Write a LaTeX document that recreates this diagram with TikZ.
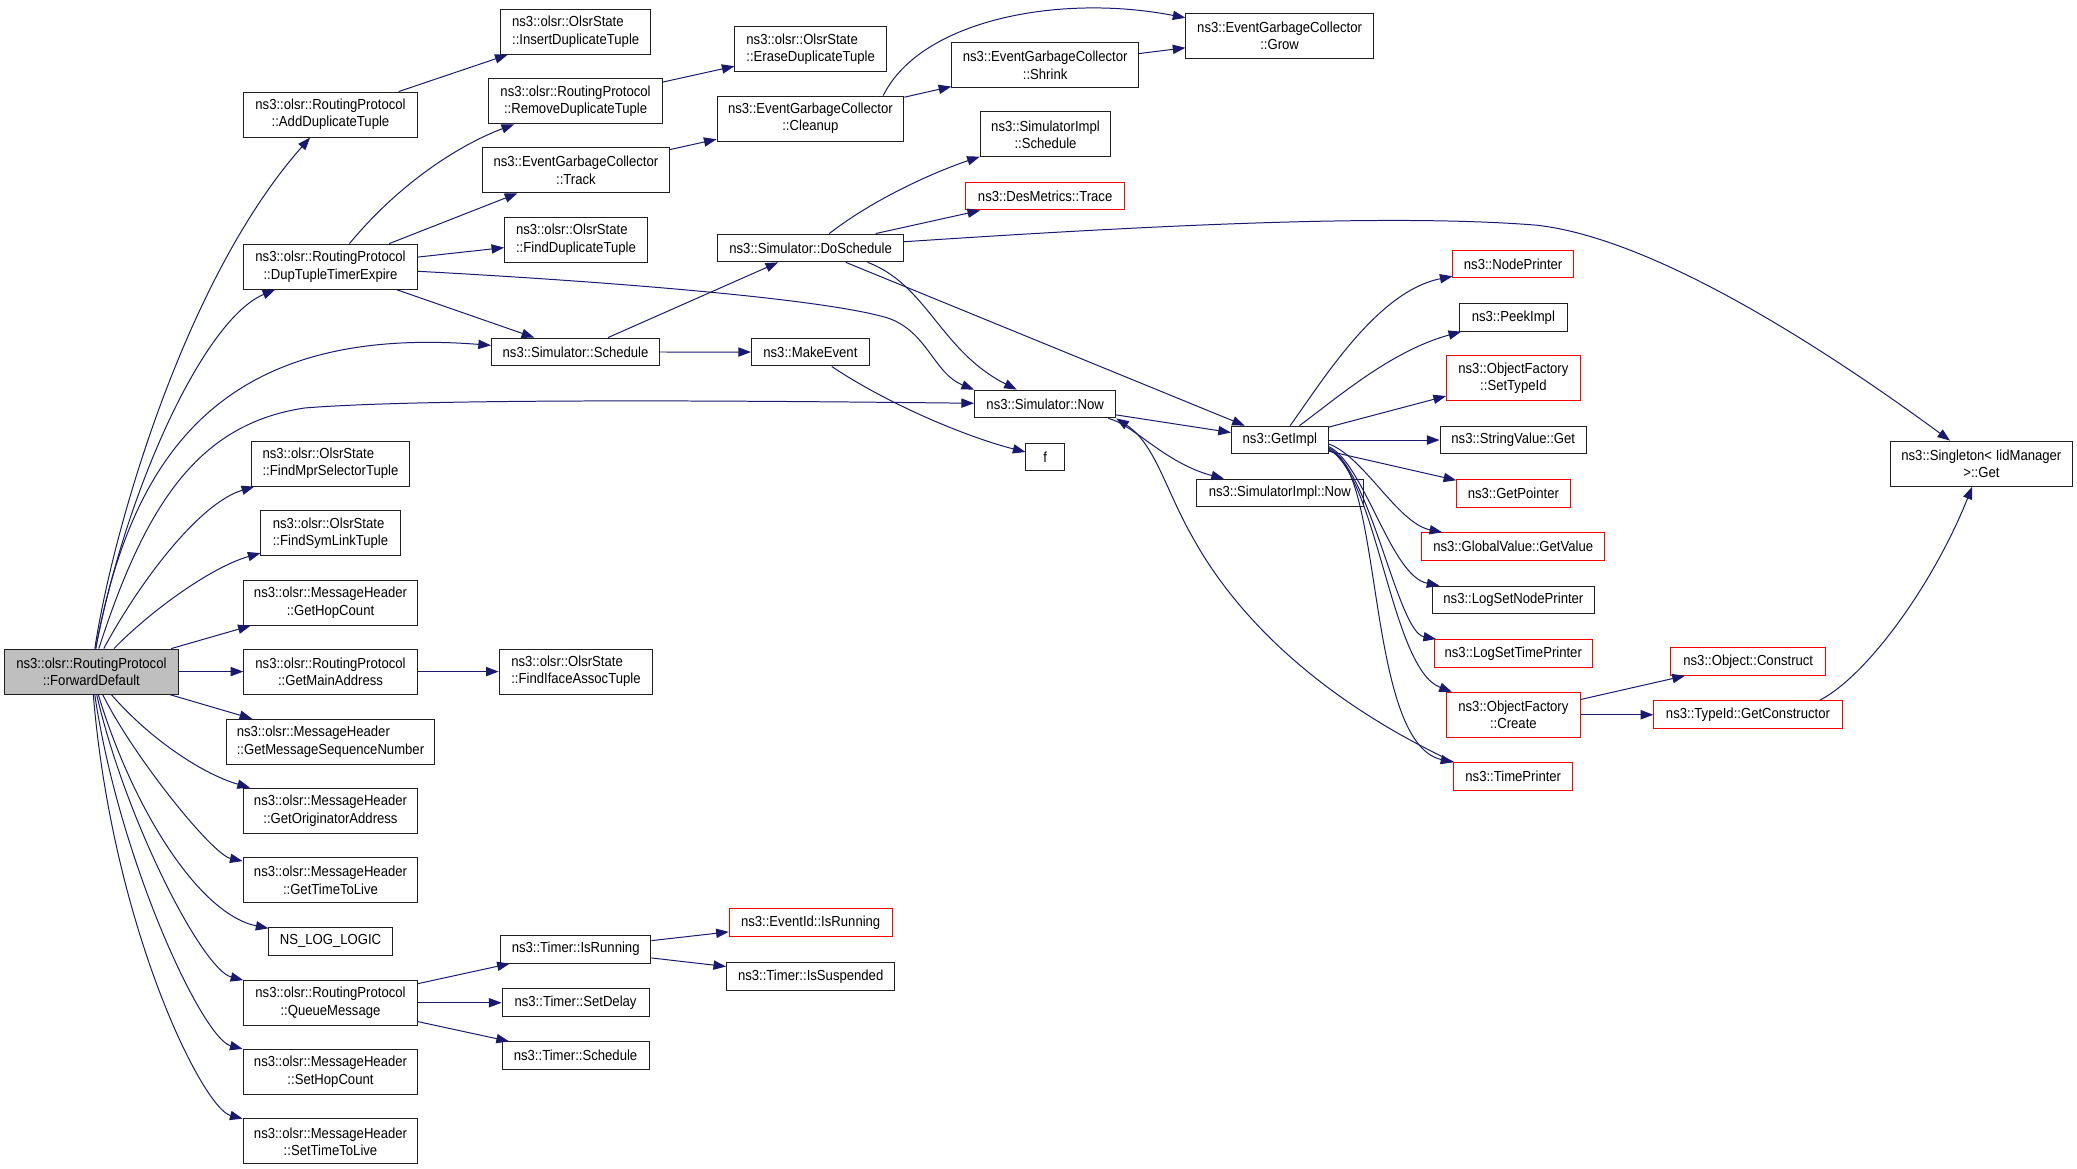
\documentclass[tikz,border=0pt]{standalone}
\usepackage{fontspec}
\setmainfont{Liberation Sans}[FakeStretch=0.9]
\usetikzlibrary{arrows.meta}
\definecolor{navyc}{HTML}{191970}
\definecolor{rootfill}{HTML}{BFBFBF}
\definecolor{boxc}{HTML}{202020}
\begin{document}
\begin{tikzpicture}[x=1pt,y=-1pt,
  fn/.style={draw=boxc, line width=0.75pt, fill=white, font=\fontsize{11}{13}\selectfont,
     inner xsep=2pt, inner ysep=1pt, align=center, minimum height=21pt},
  fn2/.style={fn, minimum height=34pt},
  la/.style={align=left},
  trunc/.style={draw=red},
  rootn/.style={fill=rootfill},
  conn/.style={draw=navyc, line width=0.75pt, -{Triangle[length=9.5pt,width=7pt]}}]
\fill[white] (0,0) rectangle (1568,882.5);
\useasboundingbox (0,0) rectangle (1568,882.5);
% column 1
\node[fn2,rootn,minimum width=131pt] (FD) at (69,507) {ns3::olsr::RoutingProtocol\\::ForwardDefault};
% column 2
\node[fn2,minimum width=131pt] (AddDup) at (249.5,86.5) {ns3::olsr::RoutingProtocol\\::AddDuplicateTuple};
\node[fn2,minimum width=131pt] (DupTuple) at (249.5,201.3) {ns3::olsr::RoutingProtocol\\::DupTupleTimerExpire};
\node[fn2,la,minimum width=119pt] (FindMpr) at (249.5,350) {ns3::olsr::OlsrState\\::FindMprSelectorTuple};
\node[fn2,la,minimum width=105pt] (FindSym) at (249.5,402.5) {ns3::olsr::OlsrState\\::FindSymLinkTuple};
\node[fn2,minimum width=132pt] (GetHop) at (249.5,455) {ns3::olsr::MessageHeader\\::GetHopCount};
\node[fn2,minimum width=131pt] (GetMain) at (249.5,507) {ns3::olsr::RoutingProtocol\\::GetMainAddress};
\node[fn2,la,minimum width=157pt] (GetSeq) at (249.5,560) {ns3::olsr::MessageHeader\\::GetMessageSequenceNumber};
\node[fn2,minimum width=132pt] (GetOrig) at (249.5,612) {ns3::olsr::MessageHeader\\::GetOriginatorAddress};
\node[fn2,minimum width=132pt] (GetTTL) at (249.5,664.5) {ns3::olsr::MessageHeader\\::GetTimeToLive};
\node[fn,minimum width=93pt] (NSLOG) at (249.5,710.5) {NS\_LOG\_LOGIC};
\node[fn2,minimum width=131pt] (Queue) at (249.5,757) {ns3::olsr::RoutingProtocol\\::QueueMessage};
\node[fn2,minimum width=132pt] (SetHop) at (249.5,809) {ns3::olsr::MessageHeader\\::SetHopCount};
\node[fn2,minimum width=132pt] (SetTTL) at (249.5,861.7) {ns3::olsr::MessageHeader\\::SetTimeToLive};
% column 3
\node[fn2,la,minimum width=113.6pt] (InsertDup) at (434.6,24) {ns3::olsr::OlsrState\\::InsertDuplicateTuple};
\node[fn2,minimum width=131pt] (RemoveDup) at (434.5,76.5) {ns3::olsr::RoutingProtocol\\::RemoveDuplicateTuple};
\node[fn2,minimum width=141pt] (Track) at (434.8,128.6) {ns3::EventGarbageCollector\\::Track};
\node[fn2,la,minimum width=107.7pt] (FindDup) at (434.8,181) {ns3::olsr::OlsrState\\::FindDuplicateTuple};
\node[fn,minimum width=127pt] (SimSched) at (434.5,265.7) {ns3::Simulator::Schedule};
\node[fn2,la,minimum width=116pt] (FindIface) at (434.8,507) {ns3::olsr::OlsrState\\::FindIfaceAssocTuple};
\node[fn,minimum width=113.6pt] (TIsRun) at (434.6,716.6) {ns3::Timer::IsRunning};
\node[fn,minimum width=111pt] (TSetDelay) at (434.5,757) {ns3::Timer::SetDelay};
\node[fn,minimum width=111pt] (TSched) at (434.5,797) {ns3::Timer::Schedule};
% column 4
\node[fn2,la,minimum width=114.3pt] (EraseDup) at (612,37.3) {ns3::olsr::OlsrState\\::EraseDuplicateTuple};
\node[fn2,minimum width=141pt] (Cleanup) at (611.8,89.5) {ns3::EventGarbageCollector\\::Cleanup};
\node[fn,minimum width=140pt] (DoSched) at (612,187.2) {ns3::Simulator::DoSchedule};
\node[fn,minimum width=89pt] (MakeEvent) at (611.8,265.8) {ns3::MakeEvent};
\node[fn,trunc,minimum width=123pt] (EvIsRun) at (612,696.5) {ns3::EventId::IsRunning};
\node[fn,minimum width=127pt] (TIsSusp) at (612,737) {ns3::Timer::IsSuspended};
% column 5
\node[fn2,minimum width=141pt] (Shrink) at (789,49.3) {ns3::EventGarbageCollector\\::Shrink};
\node[fn2,minimum width=98.6pt] (SISched) at (789.3,101.5) {ns3::SimulatorImpl\\::Schedule};
\node[fn,trunc,minimum width=120pt] (Trace) at (789,148) {ns3::DesMetrics::Trace};
\node[fn,minimum width=106.6pt] (SimNow) at (789,305) {ns3::Simulator::Now};
\node[fn,minimum width=29pt] (f) at (789,345) {f};
% column 6
\node[fn2,minimum width=141.5pt] (Grow) at (966,27.2) {ns3::EventGarbageCollector\\::Grow};
\node[fn,minimum width=73.2pt] (GetImpl) at (966.2,332.2) {ns3::GetImpl};
\node[fn,minimum width=125.6pt] (SINow) at (966.2,372.2) {ns3::SimulatorImpl::Now};
% column 7
\node[fn,trunc,minimum width=90.8pt] (NodePrinter) at (1142.3,199.3) {ns3::NodePrinter};
\node[fn,minimum width=81pt] (PeekImpl) at (1142.5,239.5) {ns3::PeekImpl};
\node[fn2,trunc,minimum width=101pt] (SetTypeId) at (1142.5,285.6) {ns3::ObjectFactory\\::SetTypeId};
\node[fn,minimum width=110.5pt] (StrGet) at (1142.4,332.2) {ns3::StringValue::Get};
\node[fn,trunc,minimum width=85.6pt] (GetPointer) at (1142.5,372.4) {ns3::GetPointer};
\node[fn,trunc,minimum width=138pt] (GetValue) at (1142.4,412.7) {ns3::GlobalValue::GetValue};
\node[fn,minimum width=122.3pt] (LogNode) at (1142.5,453) {ns3::LogSetNodePrinter};
\node[fn,trunc,minimum width=119.5pt] (LogTime) at (1142.4,493.3) {ns3::LogSetTimePrinter};
\node[fn2,trunc,minimum width=101pt] (Create) at (1142.5,539.6) {ns3::ObjectFactory\\::Create};
\node[fn,trunc,minimum width=89.8pt] (TimePrinter) at (1142.4,586) {ns3::TimePrinter};
% column 8
\node[fn,trunc,minimum width=117pt] (Construct) at (1319.8,499.3) {ns3::Object::Construct};
\node[fn,trunc,minimum width=142.2pt] (GetCtor) at (1319.6,539.6) {ns3::TypeId::GetConstructor};
% column 9
\node[fn2,minimum width=137pt] (Singleton) at (1495.8,350) {ns3::Singleton< IidManager\\>::Get};

% edges from ForwardDefault
\draw[conn] (FD) .. controls (85,400) and (140,210) .. (AddDup);
\draw[conn] (FD) .. controls (95,370) and (154,241) .. (DupTuple);
\draw[conn] (FD) .. controls (100,340) and (170,245) .. (SimSched);
\draw[conn] (FD) .. controls (110,380) and (150,320) .. (230,308) .. controls (330,300) and (600,303) .. (SimNow);
\draw[conn] (FD) .. controls (105,440) and (150,380) .. (FindMpr);
\draw[conn] (FD) .. controls (115,460) and (160,428) .. (FindSym);
\draw[conn] (FD) -- (GetHop);
\draw[conn] (FD) -- (GetMain);
\draw[conn] (FD) -- (GetSeq);
\draw[conn] (FD) .. controls (115,560) and (155,585) .. (GetOrig);
\draw[conn] (FD) .. controls (100,570) and (160,645) .. (GetTTL);
\draw[conn] (FD) .. controls (100,610) and (150,690) .. (NSLOG);
\draw[conn] (FD) .. controls (95,620) and (153,732) .. (Queue);
\draw[conn] (FD) .. controls (90,650) and (153,784) .. (SetHop);
\draw[conn] (FD) .. controls (85,700) and (153,836.7) .. (SetTTL);
% column 2 -> 3
\draw[conn] (AddDup) -- (InsertDup);
\draw[conn] (DupTuple) .. controls (300,140) and (345,110) .. (RemoveDup);
\draw[conn] (DupTuple) -- (Track);
\draw[conn] (DupTuple) -- (FindDup);
\draw[conn] (DupTuple) -- (SimSched);
\draw[conn] (DupTuple) .. controls (450,212) and (620,225) .. (670,240) .. controls (700,250) and (705,282) .. (SimNow.north west);
\draw[conn] (GetMain) -- (FindIface);
\draw[conn] (Queue) -- (TIsRun);
\draw[conn] (Queue) -- (TSetDelay);
\draw[conn] (Queue) -- (TSched);
\draw[conn] (TIsRun) -- (EvIsRun);
\draw[conn] (TIsRun) -- (TIsSusp);
% column 3 -> 4 -> 5
\draw[conn] (RemoveDup) -- (EraseDup);
\draw[conn] (Track) -- (Cleanup);
\draw[conn] (Cleanup) -- (Shrink);
\draw[conn] ([xshift=55pt]Cleanup.north) .. controls (695,15) and (800,-5) .. (Grow);
\draw[conn] (Shrink) -- (Grow);
\draw[conn] (SimSched) -- (DoSched);
\draw[conn] (SimSched) -- (MakeEvent);
\draw[conn] (MakeEvent) .. controls (670,305) and (730,330) .. (f);
\draw[conn] (DoSched) .. controls (660,150) and (705,130) .. (SISched);
\draw[conn] (DoSched) -- (Trace);
\draw[conn] (DoSched) .. controls (900,168) and (1060,162) .. (1160,170) .. controls (1250,180) and (1380,265) .. (Singleton);
\draw[conn] ([xshift=43pt]DoSched.south) .. controls (700,215) and (710,265) .. (SimNow);
\draw[conn] (DoSched) -- (GetImpl);
\draw[conn] (SimNow) -- (GetImpl);
\draw[conn] ([xshift=-6pt]SimNow.south east) .. controls (855,320) and (880,350) .. (SINow);
\draw[conn] (TimePrinter.north west) .. controls (990,525) and (930,460) .. (900,405) .. controls (880,370) and (872,335) .. (SimNow.south east);
% GetImpl fan
\draw[conn] (GetImpl) .. controls (1000,285) and (1040,220) .. (NodePrinter);
\draw[conn] (GetImpl) .. controls (1010,300) and (1050,265) .. (PeekImpl);
\draw[conn] (GetImpl) -- (SetTypeId);
\draw[conn] (GetImpl) -- (StrGet);
\draw[conn] (GetImpl) -- (GetPointer);
\draw[conn] ([yshift=-3pt]GetImpl.east) .. controls (1030,345) and (1055,395) .. (GetValue);
\draw[conn] ([yshift=-5pt]GetImpl.east) .. controls (1030,350) and (1050,435) .. (LogNode);
\draw[conn] ([yshift=-6pt]GetImpl.east) .. controls (1035,355) and (1055,477) .. (LogTime);
\draw[conn] ([yshift=-7pt]GetImpl.east) .. controls (1040,360) and (1050,505) .. (Create);
\draw[conn] ([yshift=-8pt]GetImpl.east) .. controls (1045,350) and (1030,560) .. (TimePrinter);
% right part
\draw[conn] (Create) -- (Construct);
\draw[conn] (Create) -- (GetCtor);
\draw[conn] ([xshift=54pt]GetCtor.north) .. controls (1410,510) and (1460,440) .. (Singleton);
\end{tikzpicture}
\end{document}
